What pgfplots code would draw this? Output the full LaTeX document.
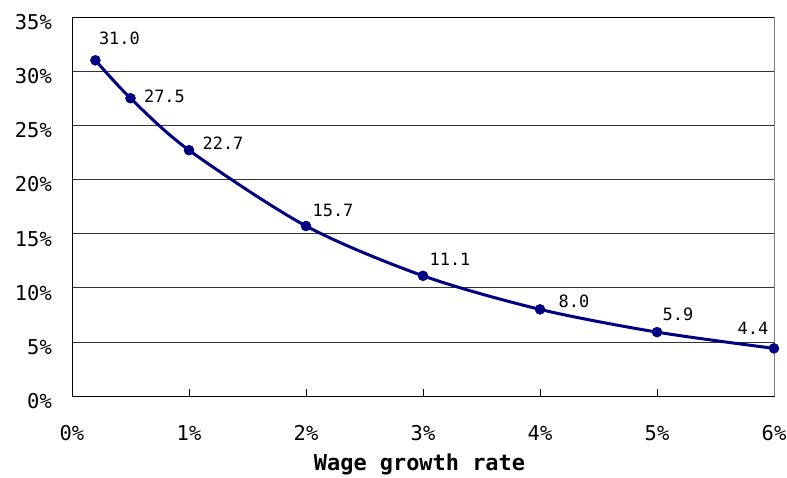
\documentclass[border=0pt]{standalone}
\usepackage{pgfplots}
\pgfplotsset{compat=1.18}
\usepackage{fontspec}
\setmainfont{DejaVu Sans Mono}
\definecolor{navyline}{RGB}{0,0,128}
\begin{document}
\begin{tikzpicture}
\begin{axis}[
  name=ax,
  scale only axis, width=702bp, height=379bp,
  xmin=0, xmax=6, ymin=0, ymax=35,
  clip=false,
  /pgf/number format/assume math mode=true,
  axis line style={black, line width=0.8bp},
  xtick={0,1,2,3,4,5,6},
  xticklabels={0\%,1\%,2\%,3\%,4\%,5\%,6\%},
  ytick={0,5,10,15,20,25,30,35},
  yticklabels={0\%,5\%,10\%,15\%,20\%,25\%,30\%,35\%},
  tick align=inside, xtick pos=lower, major tick length=7bp,
  xtick style={black, line width=0.6bp},
  ytick style={draw=none},
  ymajorgrids, grid style={black!80, line width=0.5bp},
  tick label style={font=\fontsize{20.5}{22}\selectfont},
  xticklabel style={anchor=base, inner sep=0pt, yshift=-44.5bp},
  yticklabel style={anchor=base east, inner sep=0pt, xshift=-20bp, yshift=-12.5bp},
  xlabel={\textbf{Wage growth rate}},
  xlabel style={font=\fontsize{22}{24}\selectfont, at={(axis description cs:0.495,0)}, anchor=base, yshift=-74bp, inner sep=0pt},
]
\addplot[navyline, line width=3bp, smooth, tension=0.5, mark=*, mark size=5bp, mark options={fill=navyline, draw=navyline, line width=0.5bp}]
  coordinates {(0.2,31.0) (0.5,27.5) (1,22.7) (2,15.7) (3,11.1) (4,8.0) (5,5.9) (6,4.4)};
\draw[gray, line width=0.9bp] (rel axis cs:1,0) -- (rel axis cs:1,1);
\begin{scope}[every node/.style={font=\fontsize{17}{18}\selectfont, anchor=base, inner sep=0pt}]
\node at ([xshift=24bp,yshift=16bp]axis cs:0.2,31.0) {31.0};
\node at ([xshift=34bp,yshift=-4bp]axis cs:0.5,27.5) {27.5};
\node at ([xshift=34bp,yshift=1bp]axis cs:1,22.7) {22.7};
\node at ([xshift=27bp,yshift=9bp]axis cs:2,15.7) {15.7};
\node at ([xshift=27bp,yshift=10bp]axis cs:3,11.1) {11.1};
\node at ([xshift=34bp,yshift=2bp]axis cs:4,8.0) {8.0};
\node at ([xshift=21bp,yshift=12bp]axis cs:5,5.9) {5.9};
\node at ([xshift=-21bp,yshift=14bp]axis cs:6,4.4) {4.4};
\end{scope}
\end{axis}
\pgfresetboundingbox
\useasboundingbox ([xshift=-72bp,yshift=-81bp]ax.south west) rectangle ([xshift=13bp,yshift=17bp]ax.north east);
\end{tikzpicture}
\end{document}
